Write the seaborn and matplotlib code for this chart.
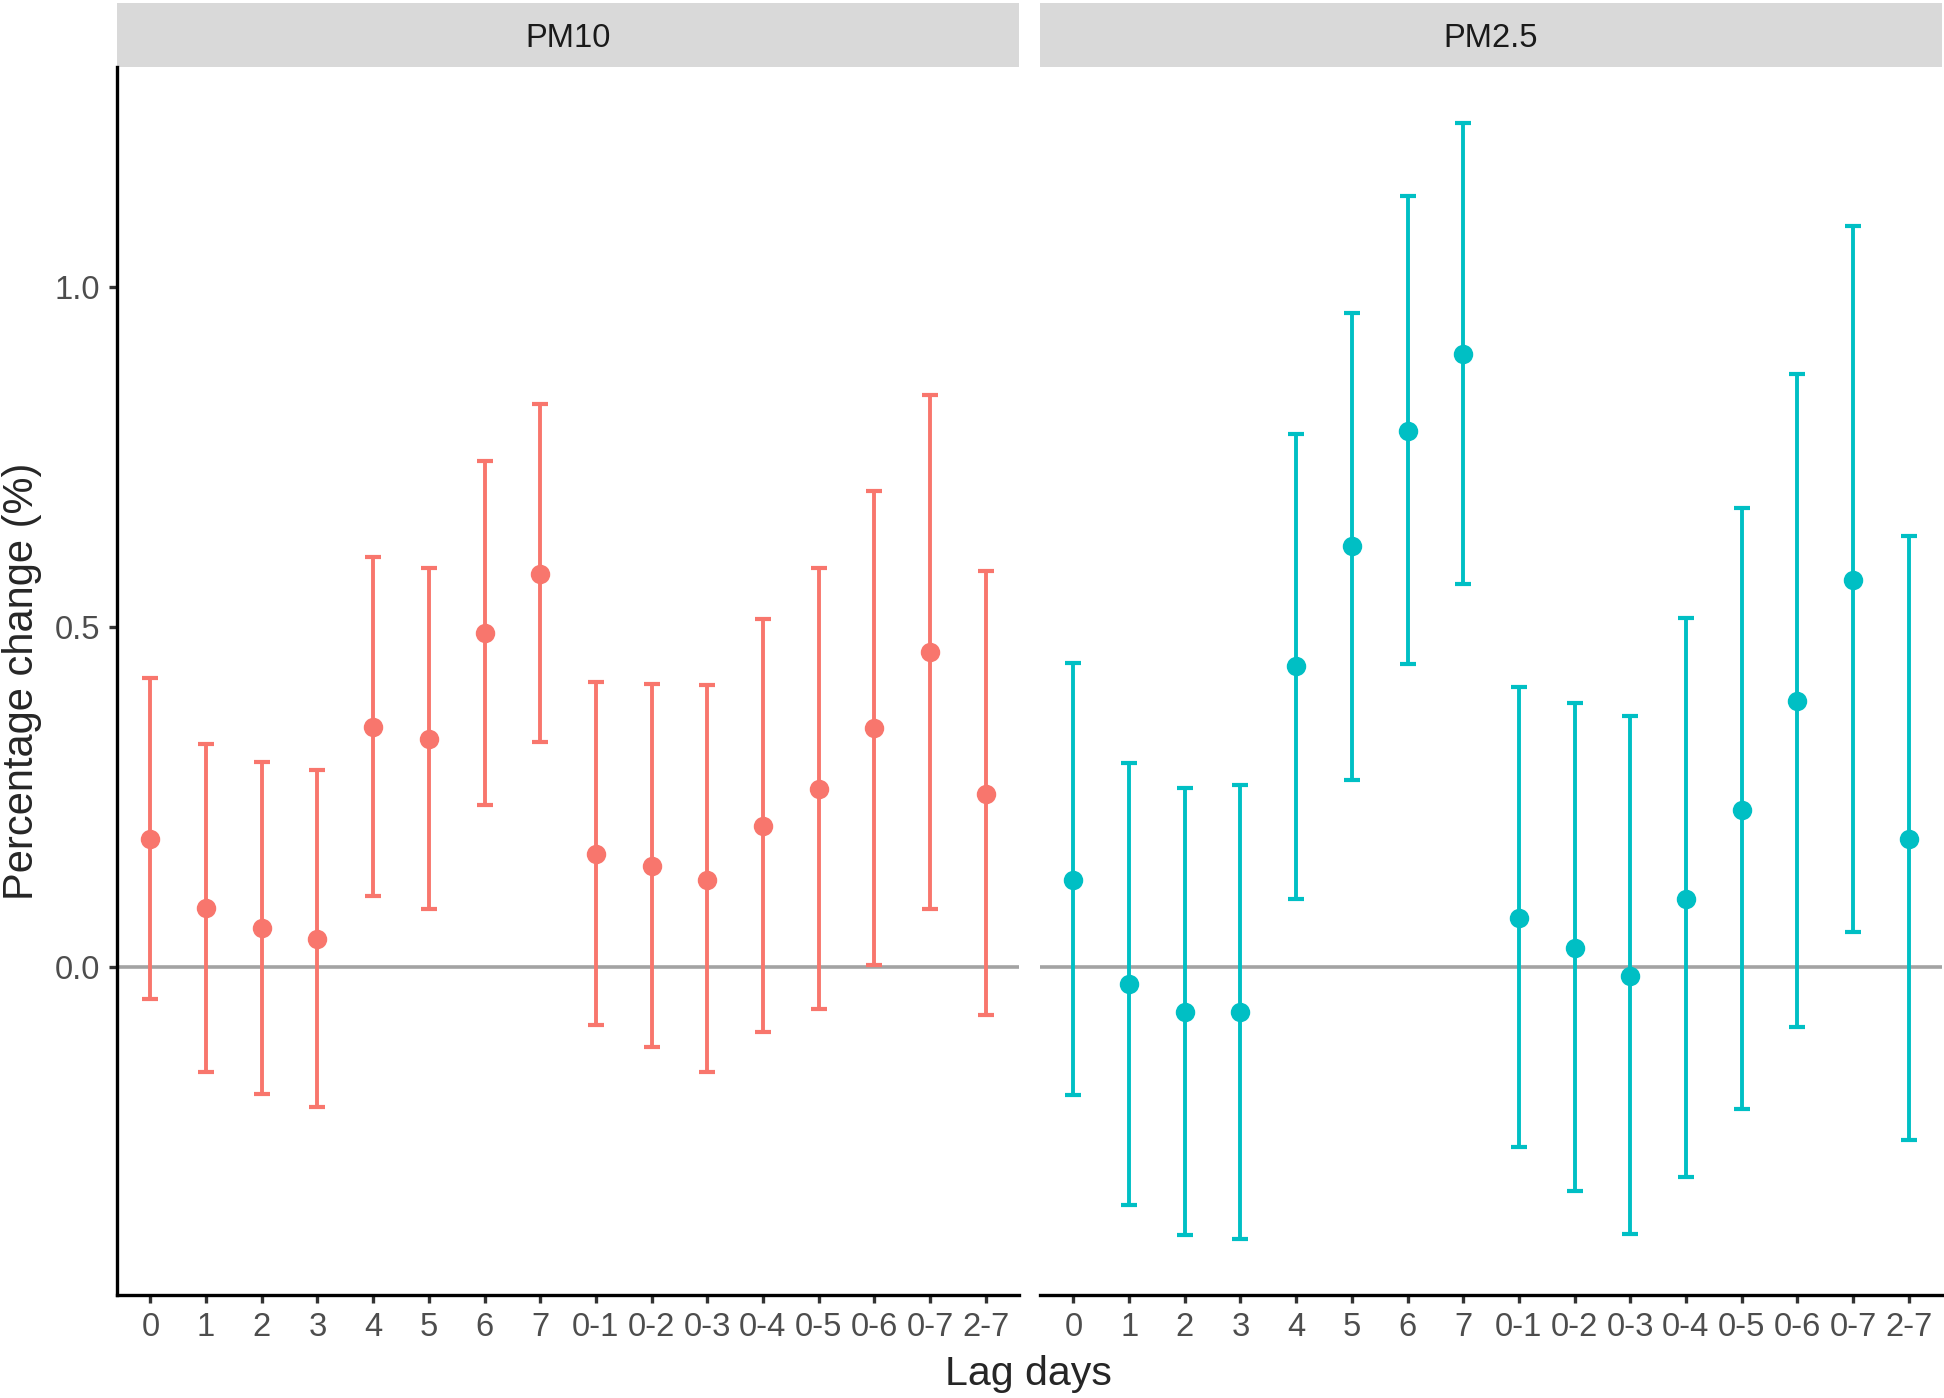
import numpy as np
import pandas as pd
import matplotlib.pyplot as plt
import seaborn as sns
from matplotlib.patches import Rectangle

# lag labels and pollutants (facets)
lags = ['0', '1', '2', '3', '4', '5', '6', '7',
        '0-1', '0-2', '0-3', '0-4', '0-5', '0-6', '0-7', '2-7']
pollutants = ['PM10', 'PM2.5']

# percentage change with 95% CI
pm10_est = [0.189, 0.087, 0.058, 0.042, 0.353, 0.335, 0.492, 0.579,
            0.166, 0.149, 0.129, 0.208, 0.262, 0.352, 0.463, 0.255]
pm10_low = [-0.046, -0.154, -0.186, -0.205, 0.105, 0.085, 0.238, 0.331,
            -0.085, -0.118, -0.154, -0.095, -0.062, 0.003, 0.086, -0.071]
pm10_up = [0.425, 0.328, 0.302, 0.290, 0.604, 0.587, 0.745, 0.828,
           0.419, 0.416, 0.415, 0.512, 0.588, 0.701, 0.842, 0.583]

pm25_est = [0.129, -0.025, -0.066, -0.066, 0.443, 0.619, 0.789, 0.902,
            0.073, 0.029, -0.013, 0.101, 0.232, 0.391, 0.570, 0.189]
pm25_low = [-0.188, -0.350, -0.394, -0.400, 0.101, 0.276, 0.446, 0.564,
            -0.265, -0.329, -0.393, -0.308, -0.209, -0.088, 0.052, -0.254]
pm25_up = [0.447, 0.301, 0.263, 0.268, 0.784, 0.963, 1.135, 1.242,
           0.412, 0.389, 0.370, 0.513, 0.676, 0.872, 1.091, 0.635]

colors = ['#F8766D', '#00BFC4']

sns.set_theme(style='ticks')
plt.rcParams['font.family'] = ['Liberation Sans', 'DejaVu Sans']

df = pd.DataFrame({
    'pollutant': np.repeat(pollutants, len(lags)),
    'lag': lags * 2,
    'est': pm10_est + pm25_est,
    'low': pm10_low + pm25_low,
    'up': pm10_up + pm25_up,
})


def draw(data, color, **kws):
    ax = plt.gca()
    ax.axhline(0, color='#A3A3A3', lw=1.3, zorder=1)
    ax.errorbar(data['lag'], data['est'],
                yerr=[data['est'] - data['low'], data['up'] - data['est']],
                fmt='o', color=color, ms=6, elinewidth=1.4,
                capsize=3, capthick=1.5, zorder=3)


g = sns.FacetGrid(df, col='pollutant', hue='pollutant', palette=colors,
                  sharey=True, height=6.99, aspect=0.7)
g.map_dataframe(draw)
g.set_titles('')
g.set_axis_labels('', '')

fig = g.figure
fig.set_size_inches(9.72, 6.99)
fig.subplots_adjust(left=0.0602, right=0.999, bottom=0.0737, top=0.952, wspace=0.0233)

# ggplot-like 5% expansion on y
lo, hi = min(pm10_low + pm25_low), max(pm10_up + pm25_up)
pad = 0.05 * (hi - lo)

for i, (ax, name) in enumerate(zip(g.axes.flat, pollutants)):
    ax.set_xlim(-0.6, len(lags) - 0.4)
    ax.set_ylim(lo - pad, hi + pad)
    ax.set_yticks([0.0, 0.5, 1.0])
    ax.set_yticklabels(['0.0', '0.5', '1.0'])
    for s in ['left', 'bottom']:
        ax.spines[s].set_linewidth(1.2)
        ax.spines[s].set_color('black')
    ax.tick_params(length=3, width=1.2, color='#333333', labelcolor='#4D4D4D',
                   labelsize=11.8, pad=3)
    if i == 1:
        ax.spines['left'].set_visible(False)
        ax.tick_params(axis='y', left=False, labelleft=False)
    # grey strip on top of each panel
    h = 0.0525
    ax.add_patch(Rectangle((0, 1.0), 1, h, transform=ax.transAxes,
                           facecolor='#D9D9D9', edgecolor='none', clip_on=False))
    ax.text(0.5, 1 + h * 0.45, name, transform=ax.transAxes, ha='center',
            va='center', fontsize=11.8, color='#1A1A1A')

fig.text(0.529, 0.0172, 'Lag days', ha='center', va='center', fontsize=14.8)
fig.text(0.0113, 0.5125, 'Percentage change (%)', ha='center', va='center',
         rotation=90, fontsize=15)

fig.savefig('out.png', dpi=200, facecolor='white')
